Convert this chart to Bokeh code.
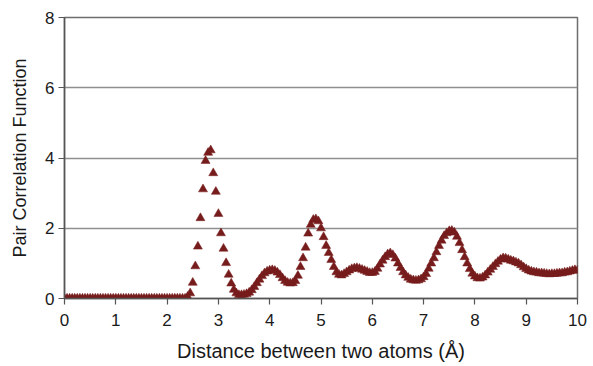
from bokeh.plotting import figure
from bokeh.models import Range1d, FixedTicker
from bokeh.embed import file_html
from bokeh.resources import INLINE

# distance grid (Å), sampled every 0.05
r = [round(i * 0.05, 2) for i in range(201)]

g_zero = [0.0] * 48  # 0.00 .. 2.35
g_rest = [
    0.05, 0.15, 0.45, 0.92, 1.48, 2.29, 3.11, 3.92, 4.15, 4.22,
    3.57, 3.04, 2.41, 1.86, 1.42, 1.01, 0.68, 0.43, 0.25, 0.15,
    0.10, 0.10, 0.11, 0.13, 0.17, 0.24, 0.33, 0.44, 0.54, 0.64,
    0.72, 0.77, 0.80, 0.81, 0.79, 0.74, 0.67, 0.58, 0.50, 0.45,
    0.43, 0.44, 0.50, 0.65, 0.90, 1.15, 1.45, 1.85, 2.10, 2.24,
    2.26, 2.20, 2.00, 1.75, 1.50, 1.30, 1.10, 0.90, 0.75, 0.68,
    0.66, 0.70, 0.75, 0.80, 0.84, 0.86, 0.87, 0.85, 0.82, 0.79,
    0.76, 0.73, 0.73, 0.76, 0.85, 0.97, 1.08, 1.18, 1.26, 1.29,
    1.24, 1.14, 1.00, 0.87, 0.75, 0.66, 0.59, 0.54, 0.52, 0.51,
    0.52, 0.55, 0.61, 0.70, 0.85, 1.00, 1.15, 1.32, 1.50, 1.65,
    1.78, 1.86, 1.92, 1.93, 1.88, 1.76, 1.58, 1.38, 1.18, 1.00,
    0.84, 0.71, 0.63, 0.58, 0.57, 0.60, 0.66, 0.74, 0.82, 0.90,
    0.98, 1.05, 1.11, 1.15, 1.14, 1.11, 1.08, 1.06, 1.03, 1.00,
    0.95, 0.89, 0.84, 0.80, 0.77, 0.75, 0.74, 0.72, 0.72, 0.71,
    0.70, 0.69, 0.70, 0.70, 0.71, 0.72, 0.72, 0.74, 0.75, 0.77,
    0.79, 0.81, 0.80,
]
g = g_zero + g_rest

x_ticks = [0, 1, 2, 3, 4, 5, 6, 7, 8, 9, 10]
y_ticks = [0, 2, 4, 6, 8]
x_title = "Distance between two atoms (Å)"
y_title = "Pair Correlation Function"

FONT = "Liberation Sans"

p = figure(width=593, height=366, output_backend="svg", toolbar_location=None,
           x_range=Range1d(0, 10), y_range=Range1d(0, 8),
           min_border_left=64, min_border_right=16, min_border_top=17,
           min_border_bottom=68)
p.background_fill_color = "white"
p.border_fill_color = "white"
p.outline_line_color = "#6e6e6e"
p.outline_line_width = 1.5

p.scatter(r, g, marker="triangle", size=9, fill_color="#771c1c",
          line_color="#771c1c", line_width=0.5)

p.xgrid.visible = False
p.ygrid.ticker = FixedTicker(ticks=y_ticks)
p.ygrid.grid_line_color = "#8f8f8f"
p.ygrid.grid_line_width = 1.5

for ax in (p.xaxis[0], p.yaxis[0]):
    ax.axis_line_color = "#555555"
    ax.axis_line_width = 1.5
    ax.major_tick_line_color = "#555555"
    ax.major_tick_line_width = 1.2
    ax.major_tick_out = 6
    ax.major_tick_in = 0
    ax.minor_tick_line_color = None
    ax.major_label_text_font = FONT
    ax.major_label_text_font_size = "17px"
    ax.major_label_text_color = "#1a1a1a"
    ax.axis_label_text_font = FONT
    ax.axis_label_text_font_style = "normal"
    ax.axis_label_text_color = "#1a1a1a"

p.xaxis.axis_label_text_font_size = "20px"
p.yaxis.axis_label_text_font_size = "18px"
p.xaxis.ticker = FixedTicker(ticks=x_ticks)
p.yaxis.ticker = FixedTicker(ticks=y_ticks)
p.xaxis.axis_label = x_title
p.yaxis.axis_label = y_title
p.xaxis.major_label_standoff = 9
p.xaxis.axis_label_standoff = 11
p.yaxis.major_label_standoff = 4
p.yaxis.axis_label_standoff = 12

open("out.html", "w").write(file_html(p, INLINE))
